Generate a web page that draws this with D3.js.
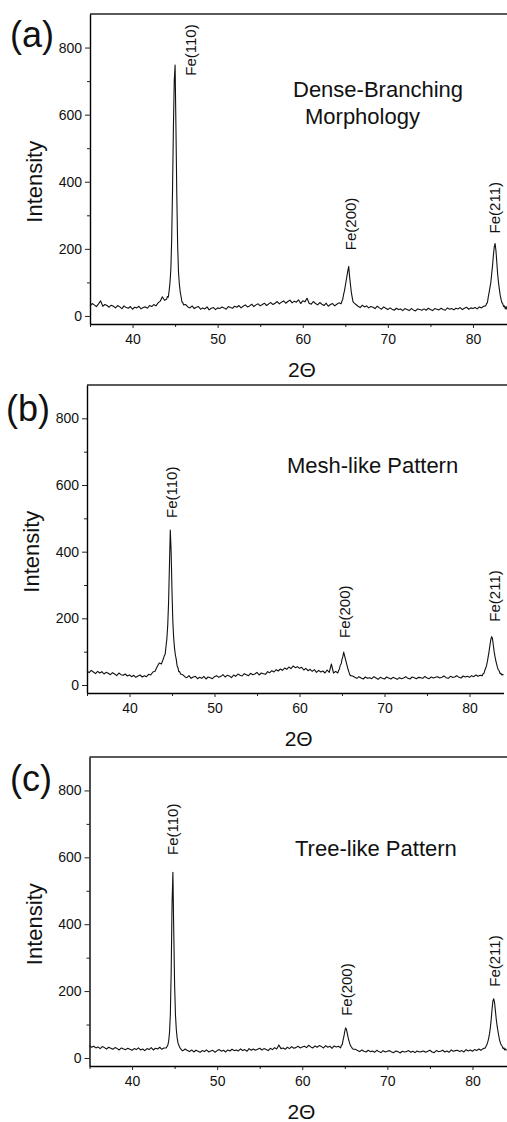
<!DOCTYPE html>
<html><head><meta charset="utf-8">
<script src="https://cdn.jsdelivr.net/npm/d3@7"></script>
<style>
body{margin:0;background:#fff}
svg{display:block}
text{font-family:"Liberation Sans",Arial,Helvetica,sans-serif;fill:#111}
</style>
</head><body>
<svg id="chart" width="507" height="1122"></svg>
<script>
// ---------------- data ----------------
const twoTheta = [35,35.25,35.5,35.75,36,36.25,36.5,36.75,37,
37.25,37.5,37.75,38,38.25,38.5,38.75,39,39.25,
39.5,39.75,40,40.25,40.5,40.75,41,41.25,41.5,
41.75,42,42.25,42.5,42.75,43,43.25,43.5,43.75,
44,44.1,44.2,44.3,44.4,44.5,44.6,44.7,44.8,44.9,
45,45.1,45.2,45.3,45.4,45.5,45.6,45.7,45.8,45.9,
46,
46.25,46.5,46.75,47,47.25,47.5,47.75,48,
48.25,48.5,48.75,49,49.25,49.5,49.75,50,
50.25,50.5,50.75,51,51.25,51.5,51.75,52,
52.25,52.5,52.75,53,53.25,53.5,53.75,54,
54.25,54.5,54.75,55,55.25,55.5,55.75,56,
56.25,56.5,56.75,57,57.25,57.5,57.75,58,
58.25,58.5,58.75,59,59.25,59.5,59.75,60,
60.25,60.5,60.75,61,61.25,61.5,61.75,62,
62.25,62.5,62.75,63,63.25,63.5,63.75,64,
64.25,
64.5,64.6,64.7,64.8,64.9,65,65.1,65.2,65.3,65.4,
65.5,65.6,65.7,65.8,65.9,66,
66.25,66.5,66.75,67,67.25,67.5,67.75,68,
68.25,68.5,68.75,69,69.25,69.5,69.75,70,
70.25,70.5,70.75,71,71.25,71.5,71.75,72,
72.25,72.5,72.75,73,73.25,73.5,73.75,74,
74.25,74.5,74.75,75,75.25,75.5,75.75,76,
76.25,76.5,76.75,77,77.25,77.5,77.75,78,
78.25,78.5,78.75,79,79.25,79.5,79.75,80,
80.25,80.5,80.75,81,81.25,
81.5,81.6,81.7,81.8,81.9,82,82.1,82.2,82.3,82.4,
82.5,82.6,82.7,82.8,82.9,83,83.1,83.2,83.3,83.4,
83.5,83.6,83.7,83.8,83.9,84];

// (a) Dense-Branching Morphology
const intensityA = [30,37,33,28,36,45,29,34,31,
26,32,29,24,31,27,22,30,25,
23,28,20,26,24,29,21,25,27,
23,31,28,34,30,39,44,57,47,
50,58,56,75,100,140,230,380,560,700,
748,560,360,210,130,95,72,58,42,40,
33,
34,27,24,30,22,26,28,20,
24,21,27,18,23,25,19,24,
22,27,24,20,28,25,23,29,
26,31,24,29,33,27,30,35,
28,33,36,30,34,38,31,36,
40,34,38,43,36,41,45,38,
43,47,39,44,41,48,37,45,
42,53,38,35,43,37,33,40,
35,31,38,29,34,37,30,35,
39,
36,44,50,64,75,90,105,120,135,148,
118,95,72,57,43,40,
34,29,25,32,27,30,24,28,
26,22,29,24,20,27,23,19,
24,20,17,23,19,21,16,22,
19,16,22,18,15,21,19,17,
21,17,23,19,16,22,20,18,
23,19,17,24,20,22,18,23,
21,25,19,23,26,20,24,22,
25,21,27,24,29,
30,37,40,57,70,85,100,125,150,180,
205,216,195,160,125,100,80,62,50,40,
37,28,30,21,28,19];

// (b) Mesh-like Pattern
const intensityB = [42,37,44,39,34,41,36,40,33,
38,35,31,37,33,28,36,31,29,
33,27,30,25,29,23,27,30,24,
28,25,32,30,39,41,55,66,63,
80,88,93,117,140,180,250,360,465,400,
280,190,140,110,90,77,58,52,40,40,
33,
31,25,22,28,20,24,26,19,
23,20,26,18,24,22,19,25,
28,23,26,31,24,29,27,22,
30,26,33,29,27,34,31,28,
35,31,33,38,30,36,34,32,
40,37,43,39,46,42,48,44,
51,47,54,49,57,52,55,50,
53,45,50,43,47,41,46,38,
44,39,42,36,45,38,63,36,
41,
36,44,48,60,63,77,85,99,88,78,
68,58,48,40,32,28,
27,23,20,25,21,18,24,20,
22,19,25,21,17,23,20,18,
24,21,18,23,20,17,22,19,
21,25,20,18,24,22,19,23,
22,20,26,21,19,24,21,23,
25,21,23,27,22,20,26,23,
24,28,23,21,27,24,26,23,
28,25,30,26,29,
28,34,35,44,50,58,70,85,100,118,
135,145,140,120,100,85,72,62,52,45,
42,34,35,30,32,30];

// (c) Tree-like Pattern
const intensityC = [37,32,35,30,33,28,34,31,27,
32,29,26,31,28,24,30,27,25,
29,26,23,28,25,30,24,27,22,
28,25,31,24,29,27,32,26,30,
30,34,38,50,75,130,260,460,555,380,
220,130,85,60,45,38,32,28,25,22,
22,
27,22,19,24,18,23,20,17,
22,19,24,18,21,23,17,22,
25,20,23,18,24,21,26,22,
24,21,27,22,25,20,28,23,
27,23,26,29,24,28,25,22,
29,25,31,27,39,28,30,26,
32,28,34,29,31,35,30,33,
35,31,38,33,30,36,32,37,
34,30,37,32,35,29,36,33,
35,
30,38,40,54,65,80,90,85,72,60,
50,42,36,32,28,26,
26,22,19,24,20,18,23,19,
21,17,23,19,16,22,18,20,
22,18,16,21,19,15,20,18,
19,22,17,20,16,21,18,19,
21,17,20,23,18,16,22,19,
20,23,18,21,17,24,20,22,
23,19,22,18,25,21,24,20,
25,22,27,23,28,
30,35,40,48,58,72,90,115,145,170,
177,165,140,115,95,80,65,52,44,38,
35,28,30,24,27,22];

const peakNames = ["Fe(110)", "Fe(200)", "Fe(211)"];
// label anchors in data units (2θ of label baseline, intensity where label starts)
const labelThetaA = [47.4, 66.23, 83.15];
const labelIntA   = [716, 196, 246];
const labelThetaB = [45.6, 65.98, 83.64];
const labelIntB   = [501, 141, 190];
const labelThetaC = [45.4, 65.79, 83.18];
const labelIntC   = [607, 126, 213];

const xDomain = [35, 84];
const yDomain = [-24, 900];
const xTicksMajor = [40, 50, 60, 70, 80];
const xTicksMinor = [35, 45, 55, 65, 75];
const yTicksMajor = [0, 200, 400, 600, 800];
const yTicksMinor = [100, 300, 500, 700];

const panelTags = ["(a)", "(b)", "(c)"];
const panelNotes = [["Dense-Branching", "Morphology"], ["Mesh-like Pattern"], ["Tree-like Pattern"]];
const xTitle = "2\u0398";
const yTitle = "Intensity";

// ---------------- layout ----------------
const layouts = [
  {left: 90,   right: 507,   top: 14,  axisY: 324,  tag: [10, 47],  notes: [[293, 97], [305, 124]]},
  {left: 87,   right: 503.5, top: 385, axisY: 693,  tag: [6, 421],  notes: [[287, 473]]},
  {left: 89.5, right: 506.5, top: 757, axisY: 1066, tag: [10, 791], notes: [[295, 856]]}
];
const series = [intensityA, intensityB, intensityC];
const labelTheta = [labelThetaA, labelThetaB, labelThetaC];
const labelInt = [labelIntA, labelIntB, labelIntC];

const svg = d3.select("#chart");

layouts.forEach((L, p) => {
  const x = d3.scaleLinear().domain(xDomain).range([L.left, L.right]);
  const y = d3.scaleLinear().domain(yDomain).range([L.axisY, L.top]);
  const g = svg.append("g");

  // top frame line (right side runs off the page)
  g.append("line").attr("x1", L.left).attr("x2", 515).attr("y1", L.top).attr("y2", L.top)
    .attr("stroke", "#222").attr("stroke-width", 1.4);

  // y axis
  const yMinor = g.append("g").attr("transform", `translate(${L.left},0)`)
    .call(d3.axisLeft(y).tickValues(yTicksMinor).tickSize(3).tickSizeOuter(0).tickFormat(""));
  yMinor.select(".domain").remove();
  const yAx = g.append("g").attr("transform", `translate(${L.left},0)`)
    .call(d3.axisLeft(y).tickValues(yTicksMajor).tickSize(5).tickSizeOuter(0).tickPadding(3));
  yAx.select(".domain").attr("stroke-width", 1.4);
  yAx.selectAll("text").style("font-size", "14px").style("font-family", "Liberation Sans, Arial, sans-serif");

  // x axis
  const xMinor = g.append("g").attr("transform", `translate(0,${L.axisY})`)
    .call(d3.axisBottom(x).tickValues(xTicksMinor).tickSize(3).tickSizeOuter(0).tickFormat(""));
  xMinor.select(".domain").remove();
  const xAx = g.append("g").attr("transform", `translate(0,${L.axisY})`)
    .call(d3.axisBottom(x).tickValues(xTicksMajor).tickSize(4).tickSizeOuter(0).tickPadding(6));
  xAx.select(".domain").attr("stroke-width", 1.4);
  xAx.selectAll("text").style("font-size", "14px").style("font-family", "Liberation Sans, Arial, sans-serif");
  g.selectAll(".tick line").attr("stroke", "#222");

  // data line
  const pts = twoTheta.map((t, i) => [t, series[p][i]]).filter(d => d[1] !== undefined);
  g.append("path").datum(pts)
    .attr("fill", "none").attr("stroke", "#111").attr("stroke-width", 1.1)
    .attr("stroke-linejoin", "round")
    .attr("d", d3.line().x(d => x(d[0])).y(d => y(d[1])));

  // peak labels
  peakNames.forEach((name, k) => {
    g.append("text")
      .attr("transform", `translate(${x(labelTheta[p][k])},${y(labelInt[p][k])}) rotate(-90)`)
      .style("font-size", "15px")
      .text(name);
  });

  // axis titles
  g.append("text").attr("x", x(59.9)).attr("y", L.axisY + 53)
    .attr("text-anchor", "middle").style("font-size", "21px").text(xTitle);
  g.append("text")
    .attr("transform", `translate(${L.left - 48},${y(400)}) rotate(-90)`)
    .attr("text-anchor", "middle").style("font-size", "22px").text(yTitle);

  // panel tag
  g.append("text").attr("x", L.tag[0]).attr("y", L.tag[1])
    .style("font-size", "36px").text(panelTags[p]);

  // notes
  panelNotes[p].forEach((s, k) => {
    g.append("text").attr("x", L.notes[k][0]).attr("y", L.notes[k][1])
      .style("font-size", "22px").text(s);
  });
});
</script>
</body></html>
